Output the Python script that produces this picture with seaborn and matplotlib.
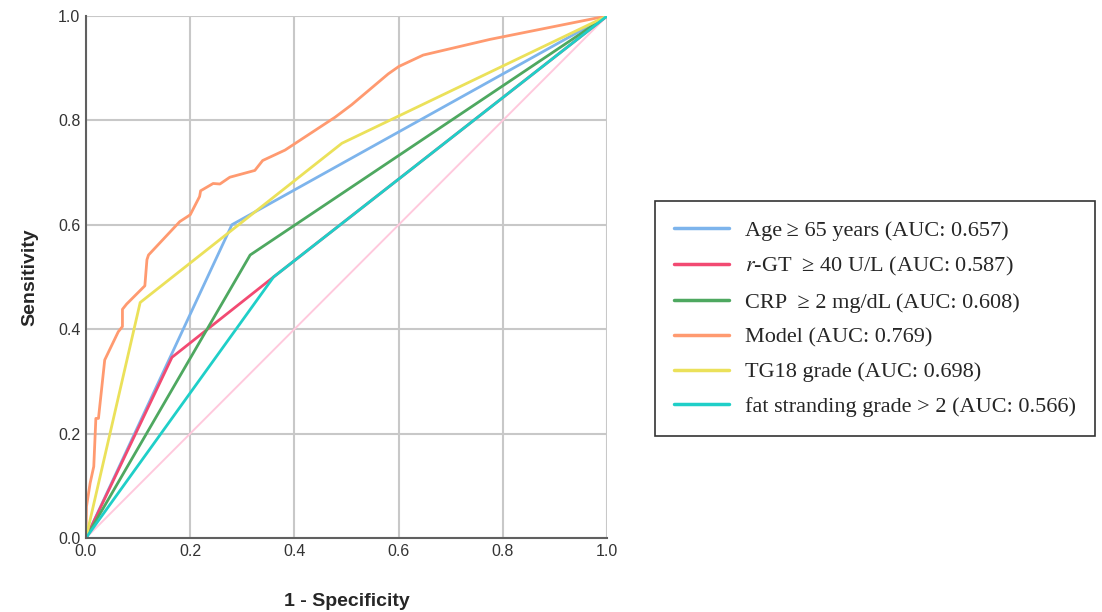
"""ROC curves of the predictors"""
import pandas as pd
import matplotlib
import matplotlib.pyplot as plt
import seaborn as sns

matplotlib.use('Agg')

#ROC points (1 - specificity, sensitivity)
age_fpr = [0.0, 0.28, 1.0]
age_tpr = [0.0, 0.60, 1.0]

ggt_fpr = [0.0, 0.165, 0.36, 1.0]
ggt_tpr = [0.0, 0.346, 0.50, 1.0]

crp_fpr = [0.0, 0.315, 1.0]
crp_tpr = [0.0, 0.542, 1.0]

model_fpr = [0.0, 0.001, 0.008, 0.015, 0.019, 0.024, 0.036, 0.062, 0.070, 0.070,
             0.078, 0.113, 0.117, 0.120, 0.180, 0.200, 0.218, 0.220, 0.244, 0.257,
             0.276, 0.324, 0.339, 0.382, 0.478, 0.510, 0.580, 0.600, 0.647, 0.775, 1.0]
model_tpr = [0.0, 0.060, 0.105, 0.137, 0.229, 0.229, 0.341, 0.395, 0.405, 0.438,
             0.448, 0.483, 0.533, 0.542, 0.606, 0.619, 0.654, 0.665, 0.679, 0.678,
             0.691, 0.704, 0.723, 0.743, 0.806, 0.830, 0.889, 0.903, 0.925, 0.955, 1.0]

tg18_fpr = [0.0, 0.104, 0.491, 1.0]
tg18_tpr = [0.0, 0.451, 0.756, 1.0]

fat_fpr = [0.0, 0.36, 1.0]
fat_tpr = [0.0, 0.50, 1.0]

ref_fpr = [0.0, 1.0]
ref_tpr = [0.0, 1.0]

labels = ['Age\u2009\u2265 65 years (AUC: 0.657)',
          '$r$-GT  \u2265 40 U/L (AUC: 0.587)',
          'CRP  \u2265 2 mg/dL (AUC: 0.608)',
          'Model (AUC: 0.769)',
          'TG18 grade (AUC: 0.698)',
          'fat stranding grade > 2 (AUC: 0.566)']
colors = ['#7db4ec', '#f24a72', '#4ea860', '#ff9a70', '#ebe15a', '#1fcfc8']

curves = [(age_fpr, age_tpr), (ggt_fpr, ggt_tpr), (crp_fpr, crp_tpr),
          (model_fpr, model_tpr), (tg18_fpr, tg18_tpr), (fat_fpr, fat_tpr)]

frames = []
for label, (fpr, tpr) in zip(labels, curves):
    frames.append(pd.DataFrame({'fpr': fpr, 'tpr': tpr, 'curve': label}))
df = pd.concat(frames, ignore_index=True)

sns.set_style('white')
plt.rcParams['font.family'] = ['Liberation Sans', 'DejaVu Sans']
plt.rcParams['mathtext.fontset'] = 'stix'

fig = plt.figure(figsize=(11.02, 6.12), dpi=100)
ax = fig.add_axes([0.078, 0.121, 0.473, 0.853])

#Reference diagonal first, below the curves
ax.plot(ref_fpr, ref_tpr, color='#ffc9dd', lw=1.4, zorder=1)

sns.lineplot(data=df, x='fpr', y='tpr', hue='curve', hue_order=labels,
             palette=colors, sort=False, estimator=None, lw=2, ax=ax)

ax.set_xlim(0, 1)
ax.set_ylim(0, 1)
ticks = [0.0, 0.2, 0.4, 0.6, 0.8, 1.0]
ax.set_xticks(ticks)
ax.set_yticks(ticks)
ax.set_xticklabels([f'{t:.1f}' for t in ticks])
ax.set_yticklabels([f'{t:.1f}' for t in ticks])
ax.tick_params(axis='both', length=0, labelsize=11.5, colors='#333333', pad=4)
ax.grid(True, color='#c8c8c8', lw=1.5)
ax.set_axisbelow(True)
for side in ['top', 'right']:
    ax.spines[side].set_visible(False)
for side in ['left', 'bottom']:
    ax.spines[side].set_color('#606060')
    ax.spines[side].set_linewidth(1.5)

ax.set_xlabel('1 - Specificity', fontsize=14, fontweight='bold', labelpad=25)
ax.set_ylabel('Sensitivity', fontsize=14, fontweight='bold', labelpad=14)

leg = ax.legend(loc='center left', bbox_to_anchor=(1.07, 0.42), frameon=True,
                fancybox=False, edgecolor='black', handlelength=2.5,
                borderpad=0.85, labelspacing=0.64, handletextpad=0.7,
                prop={'family': 'Liberation Serif', 'size': 16})
leg.get_frame().set_linewidth(1.2)
for line in leg.get_lines():
    line.set_linewidth(2.5)

plt.savefig('out.png', dpi=100)
